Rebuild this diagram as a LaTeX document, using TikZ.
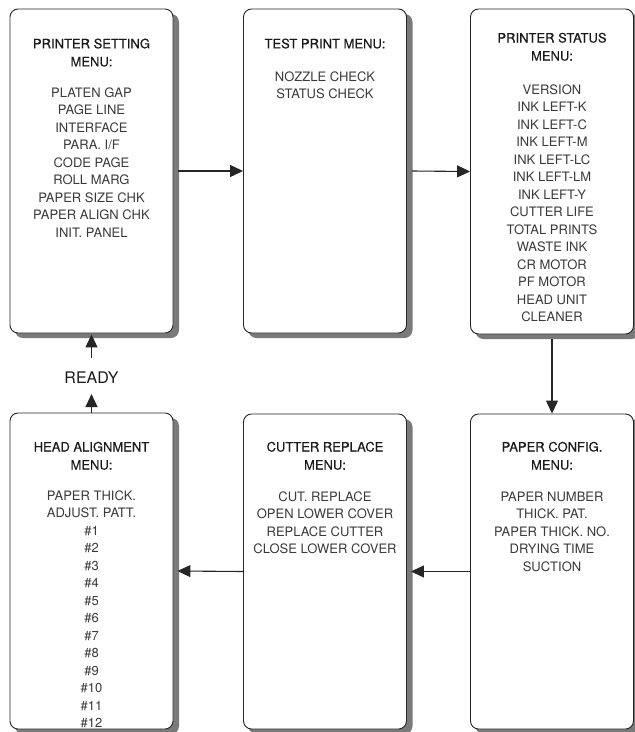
\documentclass[tikz,border=0pt]{standalone}
\usepackage{fontspec}
\setmainfont{TeX Gyre Heros}
\newfontfamily\menutitlefont[FakeBold=0.35]{TeX Gyre Heros}
\usetikzlibrary{arrows.meta}
\definecolor{shadowgray}{RGB}{122,122,122}
\definecolor{titlecol}{RGB}{26,26,26}
\definecolor{itemcol}{RGB}{58,58,58}
\definecolor{linecol}{RGB}{38,38,38}
\tikzset{
  menubox/.style={draw=linecol, line width=0.9pt, rounded corners=8pt, fill=white,
    minimum width=163pt, inner sep=0pt},
  boxshadow/.style={fill=shadowgray, draw=none, rounded corners=8pt},
  ttl/.style={anchor=north, inner sep=0pt, align=center, text=titlecol,
    font=\menutitlefont\fontsize{13}{18}\selectfont},
  itm/.style={anchor=north, inner sep=0pt, align=center, text=itemcol,
    font=\fontsize{13}{17.5}\selectfont},
  arr/.style={draw=linecol, line width=1.1pt, -{Triangle[length=13pt,width=12pt]}}
}
\begin{document}
\begin{tikzpicture}[x=1pt,y=-1pt]
\clip (0,0) rectangle (635,732);
\fill[white] (0,0) rectangle (635,732);

% shadows
\fill[boxshadow] (15,14) rectangle (179,338);
\fill[boxshadow] (248.5,14) rectangle (412.5,338);
\fill[boxshadow] (475.5,14) rectangle (639.5,339);
\fill[boxshadow] (15,418) rectangle (179,734);
\fill[boxshadow] (248.5,419) rectangle (412.5,734);
\fill[boxshadow] (475.5,419) rectangle (639.5,734);

% boxes
\node[menubox, minimum height=324pt] (b1) at (91.5,171) {};
\node[menubox, minimum height=324pt] (b2) at (325,171) {};
\node[menubox, minimum height=325pt] (b3) at (552,171.5) {};
\node[menubox, minimum height=316pt] (b4) at (91.5,571) {};
\node[menubox, minimum height=315pt] (b5) at (325,571.5) {};
\node[menubox, minimum height=315pt] (b6) at (552,571.5) {};

% texts
\node[ttl] (t1) at (91.5,38.4) {PRINTER SETTING\\MENU:};
\node[itm] (i1) at (91.5,87.4) {PLATEN GAP\\PAGE LINE\\INTERFACE\\PARA. I/F\\CODE PAGE\\ROLL MARG\\PAPER SIZE CHK\\PAPER ALIGN CHK\\INIT. PANEL};

\node[ttl] (t2) at (325,38.4) {TEST PRINT MENU:};
\node[itm] (i2) at (325,71.4) {NOZZLE CHECK\\STATUS CHECK};

\node[ttl] (t3) at (552,32.6) {PRINTER STATUS\\MENU:};
\node[itm] (i3) at (552,84.4) {VERSION\\INK LEFT-K\\INK LEFT-C\\INK LEFT-M\\INK LEFT-LC\\INK LEFT-LM\\INK LEFT-Y\\CUTTER LIFE\\TOTAL PRINTS\\WASTE INK\\CR MOTOR\\PF MOTOR\\HEAD UNIT\\CLEANER};

\node[ttl] (t4) at (91.5,441.6) {HEAD ALIGNMENT\\MENU:};
\node[itm] (i4) at (91.5,490.4) {PAPER THICK.\\ADJUST. PATT.\\\#1\\\#2\\\#3\\\#4\\\#5\\\#6\\\#7\\\#8\\\#9\\\#10\\\#11\\\#12};

\node[ttl] (t5) at (325,441.6) {CUTTER REPLACE\\MENU:};
\node[itm] (i5) at (325,491.4) {CUT. REPLACE\\OPEN LOWER COVER\\REPLACE CUTTER\\CLOSE LOWER COVER};

\node[ttl] (t6) at (552,441.6) {PAPER CONFIG.\\MENU:};
\node[itm] (i6) at (552,491.4) {PAPER NUMBER\\THICK. PAT.\\PAPER THICK. NO.\\DRYING TIME\\SUCTION};

\node[inner sep=0pt, text=titlecol, font=\fontsize{16}{18}\selectfont] (ready) at (91.5,378) {READY};

% connectors
\draw[arr] ([xshift=5pt]b1.east) -- (b2.west);
\draw[arr] ([xshift=5pt]b2.east) -- (b3.west);
\draw[arr] ([yshift=-5pt]b3.south) -- (b6.north);
\draw[arr] (b6.west) -- ([xshift=4pt]b5.east);
\draw[arr] (b5.west) -- ([xshift=4pt]b4.east);
\draw[arr] (b4.north) -- ([yshift=-10pt]ready.south);
\draw[arr] ([yshift=14pt]ready.north) -- ([yshift=-1pt]b1.south);
\end{tikzpicture}
\end{document}
